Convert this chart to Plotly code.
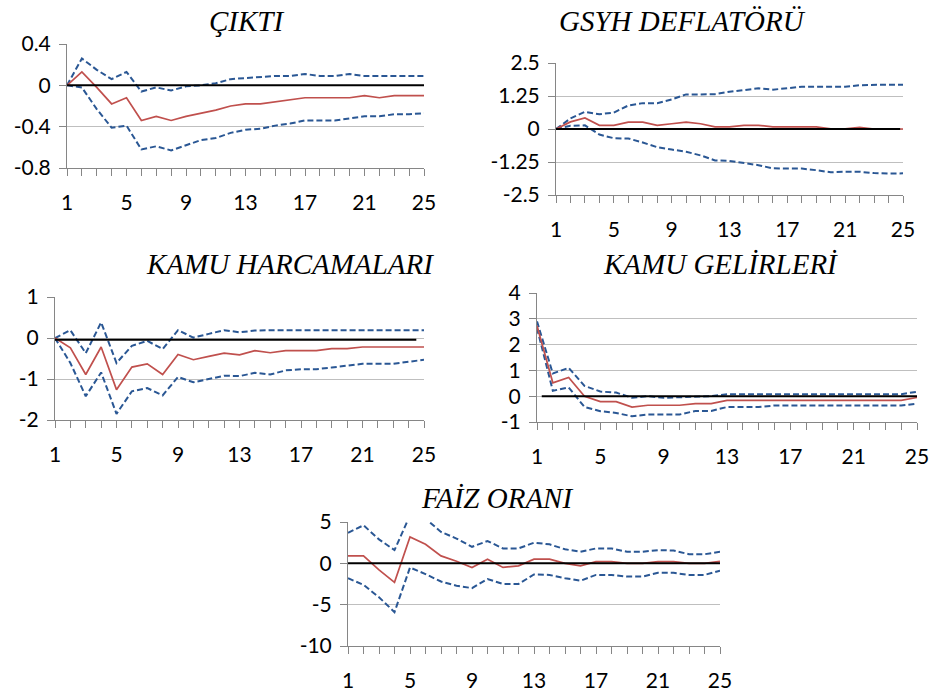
import plotly.graph_objects as go

periods = list(range(1, 26))
tick_labels = [str(i) if (i - 1) % 4 == 0 else "" for i in periods]

titles = ["ÇIKTI", "GSYH DEFLATÖRÜ", "KAMU HARCAMALARI", "KAMU GELİRLERİ", "FAİZ ORANI"]

# ÇIKTI
cikti_resp = [0, 0.13, -0.02, -0.18, -0.12, -0.34, -0.30, -0.34, -0.30, -0.27, -0.24, -0.20, -0.18,
              -0.18, -0.16, -0.14, -0.12, -0.12, -0.12, -0.12, -0.10, -0.12, -0.10, -0.10, -0.10]
cikti_up = [0, 0.26, 0.15, 0.06, 0.13, -0.06, -0.02, -0.05, -0.01, 0.0, 0.02, 0.06, 0.07,
            0.08, 0.09, 0.09, 0.11, 0.09, 0.09, 0.11, 0.09, 0.09, 0.09, 0.09, 0.09]
cikti_lo = [0, -0.02, -0.23, -0.41, -0.39, -0.62, -0.59, -0.63, -0.58, -0.53, -0.51, -0.46, -0.43,
            -0.42, -0.39, -0.37, -0.34, -0.34, -0.34, -0.32, -0.30, -0.30, -0.28, -0.28, -0.27]

# GSYH DEFLATÖRÜ
gsyh_resp = [0, 0.27, 0.42, 0.14, 0.14, 0.26, 0.26, 0.14, 0.20, 0.26, 0.20, 0.08, 0.08,
             0.14, 0.14, 0.08, 0.08, 0.08, 0.08, 0.01, 0.01, 0.06, 0.0, 0.0, 0.0]
gsyh_up = [0, 0.40, 0.65, 0.56, 0.62, 0.89, 0.98, 0.98, 1.12, 1.31, 1.31, 1.32, 1.41,
           1.48, 1.54, 1.49, 1.54, 1.60, 1.60, 1.60, 1.60, 1.66, 1.68, 1.68, 1.68]
gsyh_lo = [0, 0.12, 0.14, -0.21, -0.35, -0.36, -0.51, -0.69, -0.78, -0.86, -1.00, -1.19, -1.21,
           -1.29, -1.37, -1.49, -1.49, -1.50, -1.56, -1.64, -1.62, -1.62, -1.67, -1.69, -1.68]

# KAMU HARCAMALARI
harc_resp = [0, -0.24, -0.89, -0.22, -1.26, -0.71, -0.63, -0.89, -0.40, -0.53, -0.45, -0.37, -0.41,
             -0.31, -0.36, -0.31, -0.31, -0.31, -0.26, -0.26, -0.22, -0.22, -0.22, -0.22, -0.22]
harc_up = [0, 0.19, -0.37, 0.38, -0.61, -0.19, -0.07, -0.27, 0.19, 0.01, 0.10, 0.19, 0.14,
           0.18, 0.19, 0.19, 0.19, 0.19, 0.19, 0.19, 0.19, 0.19, 0.19, 0.19, 0.19]
harc_lo = [0, -0.61, -1.42, -0.84, -1.85, -1.30, -1.22, -1.40, -0.95, -1.08, -1.00, -0.92, -0.93,
           -0.85, -0.89, -0.79, -0.76, -0.76, -0.72, -0.67, -0.63, -0.63, -0.63, -0.58, -0.53]

# KAMU GELİRLERİ
gelir_resp = [2.73, 0.52, 0.73, 0.0, -0.21, -0.21, -0.42, -0.35, -0.35, -0.35, -0.29, -0.29, -0.16,
              -0.16, -0.16, -0.16, -0.16, -0.16, -0.16, -0.16, -0.16, -0.16, -0.16, -0.16, -0.05]
gelir_up = [2.90, 0.88, 1.10, 0.40, 0.18, 0.14, -0.06, 0.0, -0.06, -0.04, 0.0, 0.0, 0.08,
            0.08, 0.08, 0.08, 0.08, 0.08, 0.08, 0.08, 0.08, 0.08, 0.08, 0.08, 0.17]
gelir_lo = [2.64, 0.21, 0.34, -0.42, -0.58, -0.65, -0.78, -0.71, -0.71, -0.71, -0.57, -0.57, -0.42,
            -0.42, -0.42, -0.36, -0.36, -0.36, -0.36, -0.36, -0.36, -0.36, -0.36, -0.36, -0.29]

# FAİZ ORANI
faiz_resp = [0.9, 0.9, -0.8, -2.3, 3.2, 2.3, 0.9, 0.25, -0.5, 0.5, -0.5, -0.3, 0.5,
             0.5, 0.0, -0.3, 0.2, 0.2, 0.0, 0.0, 0.2, 0.2, 0.0, 0.0, 0.25]
faiz_up = [3.7, 4.6, 2.9, 1.6, 5.8, 5.4, 3.8, 3.0, 2.0, 2.7, 1.8, 1.8, 2.5,
           2.3, 1.7, 1.4, 1.8, 1.8, 1.4, 1.4, 1.6, 1.55, 1.1, 1.1, 1.4]
faiz_lo = [-1.8, -2.6, -4.1, -5.9, -0.5, -1.3, -2.2, -2.7, -3.0, -1.9, -2.5, -2.5, -1.35,
           -1.4, -1.8, -2.1, -1.4, -1.4, -1.6, -1.6, -1.15, -1.15, -1.4, -1.4, -0.9]

responses = [cikti_resp, gsyh_resp, harc_resp, gelir_resp, faiz_resp]
uppers = [cikti_up, gsyh_up, harc_up, gelir_up, faiz_up]
lowers = [cikti_lo, gsyh_lo, harc_lo, gelir_lo, faiz_lo]

# reference (zero) line per panel: [start, end], level
ref_x = [[1, 25], [1, 24.8], [1, 24.5], [1.3, 25], [1, 25]]
ref_level = [0, 0, -0.04, 0, 0]

y_ranges = [[-0.8, 0.4], [-2.5, 2.5], [-2, 1], [-1, 4], [-10, 5]]
y_ticks = [[-0.8, -0.4, 0, 0.4], [-2.5, -1.25, 0, 1.25, 2.5], [-2, -1, 0, 1], [-1, 0, 1, 2, 3, 4], [-10, -5, 0, 5]]
y_ticktext = [["-0.8", "-0.4", "0", "0.4"], ["-2.5", "-1.25", "0", "1.25", "2.5"],
              ["-2", "-1", "0", "1"], ["-1", "0", "1", "2", "3", "4"], ["-10", "-5", "0", "5"]]

W, H = 933, 697
# panel plot-area boxes in page pixels (x0, x1, y0, y1) and title positions
boxes = [(67, 424, 44, 168), (556, 903, 63, 195), (55, 424, 297, 420), (537, 917, 293, 422), (348, 720, 522, 646)]
title_pos = [(247, 21), (682, 21), (290, 264), (720, 264), (497, 498)]


def fx(px):
    return px / W


def fy(py):
    return 1 - py / H


RED = "#C0504D"
BLUE = "#2A5794"
GRID = "#BFBFBF"
AXIS = "#868686"
TICKFONT = dict(family="Lato, Open Sans, sans-serif", size=21, color="#000000")

fig = go.Figure()
layout = dict(width=W, height=H, margin=dict(l=0, r=0, t=0, b=0, autoexpand=False),
              paper_bgcolor="white", plot_bgcolor="white", showlegend=False, template="none")
annotations = []

for k in range(5):
    sfx = "" if k == 0 else str(k + 1)
    xa, ya = "x" + sfx, "y" + sfx
    fig.add_trace(go.Scatter(x=periods, y=uppers[k], mode="lines", xaxis=xa, yaxis=ya,
                             line=dict(color=BLUE, width=2, dash="6px,3px")))
    fig.add_trace(go.Scatter(x=periods, y=lowers[k], mode="lines", xaxis=xa, yaxis=ya,
                             line=dict(color=BLUE, width=2, dash="6px,3px")))
    fig.add_trace(go.Scatter(x=periods, y=responses[k], mode="lines", xaxis=xa, yaxis=ya,
                             line=dict(color=RED, width=1.7)))
    fig.add_trace(go.Scatter(x=ref_x[k], y=[ref_level[k]] * 2, mode="lines", xaxis=xa, yaxis=ya,
                             line=dict(color="black", width=2)))
    x0, x1, y0, y1 = boxes[k]
    layout["xaxis" + sfx] = dict(
        domain=[fx(x0), fx(x1)], anchor=ya, range=[1, 25], automargin=False,
        tickvals=periods, ticktext=tick_labels, ticks="outside", ticklen=7,
        tickcolor=AXIS, tickwidth=1, showline=True, linecolor=AXIS, linewidth=1,
        showgrid=False, zeroline=False, tickfont=TICKFONT, ticklabelstandoff=9)
    layout["yaxis" + sfx] = dict(
        domain=[fy(y1), fy(y0)], anchor=xa, range=y_ranges[k], automargin=False,
        tickvals=y_ticks[k], ticktext=y_ticktext[k], ticks="outside", ticklen=7,
        tickcolor=AXIS, tickwidth=1, showline=True, linecolor=AXIS, linewidth=1,
        showgrid=True, gridcolor=GRID, gridwidth=1, zeroline=False, tickfont=TICKFONT,
        ticklabelstandoff=4)
    tx, ty = title_pos[k]
    annotations.append(dict(text="<i>" + titles[k] + "</i>", x=fx(tx), y=fy(ty),
                            xref="paper", yref="paper", xanchor="center", yanchor="middle",
                            showarrow=False,
                            font=dict(family="Liberation Serif, Times New Roman, serif", size=29, color="black")))

layout["annotations"] = annotations
fig.update_layout(**layout)
# remove the browser's default 8px body margin so the 933x697 figure fills the window exactly
fig.write_html("out.html", config={"displayModeBar": False},
               post_script="document.body.style.margin='0px';document.body.style.overflow='hidden';")
